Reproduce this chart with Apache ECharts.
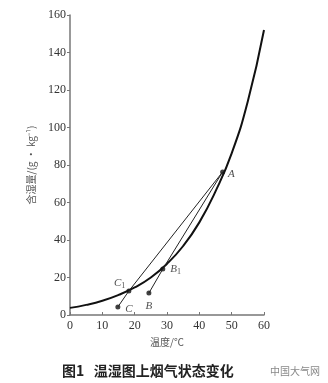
<!DOCTYPE html>
<html><head><meta charset="utf-8">
<script src="https://cdn.jsdelivr.net/npm/echarts@6/dist/echarts.min.js"></script>
<style>html,body{margin:0;padding:0;background:#fff}#c{width:328px;height:383px}</style>
</head><body><div id="c"></div>
<script>
const xTicks = [0, 10, 20, 30, 40, 50, 60];
const yTicks = [0, 20, 40, 60, 80, 100, 120, 140, 160];
// saturation curve (temperature °C, moisture content g/kg)
const curveT = [0, 5, 10, 15, 20, 25, 30, 35, 40, 45, 50, 55, 60];
const curveD = [3.8, 5.4, 7.6, 10.7, 14.7, 20.0, 27.3, 36.8, 49.4, 65.9, 86.2, 114, 152];
// state points
const pointNames = ['A', 'B', 'B1', 'C', 'C1'];
const pointT = [47.2, 24.4, 28.7, 14.8, 18.2];
const pointD = [76.3, 11.7, 24.5, 4.3, 12.8];
// process lines
const pathC = ['C', 'C1', 'A'];
const pathB = ['B', 'B1', 'A'];

const idx = n => pointNames.indexOf(n);
const pt = n => [pointT[idx(n)], pointD[idx(n)]];
const labelPos = {A: ['right', [-2, 2]], B: ['bottom', [0, 0]], B1: ['right', [0, 0]], C: ['right', [0, 2]], C1: ['left', [4, -8]]};
const fmt = n => n.length > 1 ? '{m|' + n[0] + '}{s|' + n.slice(1) + '}' : '{m|' + n + '}';

const chart = echarts.init(document.getElementById('c'));
chart.setOption({
  animation: false,
  grid: {left: 70, right: 64, top: 15, bottom: 68},
  xAxis: {
    type: 'value', min: 0, max: 60, interval: 10,
    name: '温度/℃', nameLocation: 'middle', nameGap: 18,
    nameTextStyle: {fontFamily: 'Noto Sans CJK SC', fontSize: 10, color: '#555'},
    axisLine: {lineStyle: {color: '#777', width: 1.5}},
    axisTick: {show: true, inside: true, length: 3, lineStyle: {color: '#777'}},
    axisLabel: {fontFamily: 'Liberation Serif', fontSize: 12, color: '#333', margin: 5},
    splitLine: {show: false}
  },
  yAxis: {
    type: 'value', min: 0, max: 160, interval: 20,
    name: '含湿量/(g · kg⁻¹)', nameLocation: 'middle', nameGap: 34, nameRotate: 90,
    nameTextStyle: {fontFamily: 'Noto Sans CJK SC', fontSize: 10, color: '#555'},
    axisLine: {show: true, lineStyle: {color: '#777', width: 1.5}},
    axisTick: {show: true, length: 3, lineStyle: {color: '#777'}},
    axisLabel: {fontFamily: 'Liberation Serif', fontSize: 12, color: '#333', margin: 4},
    splitLine: {show: false}
  },
  series: [
    {type: 'line', data: curveT.map((t, i) => [t, curveD[i]]), smooth: true, symbol: 'none',
     lineStyle: {color: '#111', width: 2}},
    {type: 'line', data: pathC.map(pt), symbol: 'none', lineStyle: {color: '#222', width: 1}},
    {type: 'line', data: pathB.map(pt), symbol: 'none', lineStyle: {color: '#222', width: 1}},
    {type: 'scatter', symbolSize: 5, itemStyle: {color: '#111'},
     data: pointNames.map(n => ({
       value: pt(n),
       label: {show: true, position: labelPos[n][0], offset: labelPos[n][1], formatter: fmt(n),
         rich: {m: {fontFamily: 'Liberation Serif', fontStyle: 'italic', fontSize: 11, color: '#222'},
                s: {fontFamily: 'Liberation Serif', fontSize: 8, color: '#222', verticalAlign: 'bottom', padding: [6, 0, 0, 0]}}}
     }))}
  ],
  graphic: [
    {type: 'text', left: 62, top: 364, style: {text: '图1   温湿图上烟气状态变化', font: 'bold 14px "Noto Sans CJK SC"', fill: '#222'}},
    {type: 'text', left: 270, top: 366, style: {text: '中国大气网', font: '10px "Noto Sans CJK SC"', fill: '#888'}}
  ]
});
</script></body></html>
